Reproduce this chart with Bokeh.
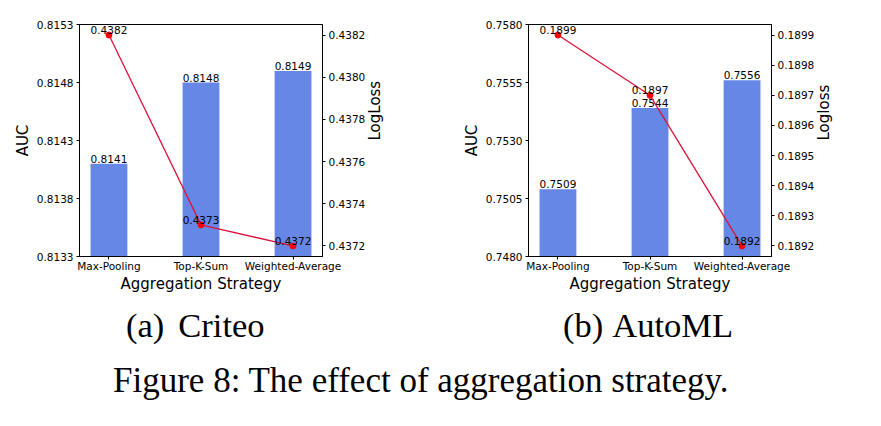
import math
from bokeh.plotting import figure
from bokeh.models import Range1d, LinearAxis, FixedTicker, Div, NumeralTickFormatter
from bokeh.layouts import row, column
from bokeh.embed import file_html
from bokeh.resources import INLINE
from bokeh.core.properties import value

strategies = ["Max-Pooling", "Top-K-Sum", "Weighted-Average"]

criteo_auc = [0.8141, 0.8148, 0.8149]
criteo_logloss = [0.4382, 0.4373, 0.4372]
criteo_auc_ticks = [0.8133, 0.8138, 0.8143, 0.8148, 0.8153]
criteo_logloss_ticks = [0.4372, 0.4374, 0.4376, 0.4378, 0.4380, 0.4382]

automl_auc = [0.7509, 0.7544, 0.7556]
automl_logloss = [0.1899, 0.1897, 0.1892]
automl_auc_ticks = [0.7480, 0.7505, 0.7530, 0.7555, 0.7580]
automl_logloss_ticks = [0.1892, 0.1893, 0.1894, 0.1895, 0.1896, 0.1897, 0.1898, 0.1899]

FONT = "DejaVu Sans"
BAR_COLOR = "#6787E7"


def style_axis(ax, label_size="15px"):
    ax.axis_line_color = "black"
    ax.major_tick_line_color = "black"
    ax.major_tick_out = 3
    ax.major_tick_in = 0
    ax.minor_tick_line_color = None
    ax.major_label_text_font = FONT
    ax.major_label_text_font_size = "10.5px"
    ax.major_label_text_color = "black"
    ax.axis_label_text_font = FONT
    ax.axis_label_text_font_size = label_size
    ax.axis_label_text_font_style = "normal"
    ax.axis_label_text_color = "black"


def make_panel(auc, loss, auc_ticks, loss_ticks, loss_label, width, left, right):
    xs = list(range(len(strategies)))
    pad = (max(loss) - min(loss)) * 0.05
    p = figure(width=width, height=300, output_backend="svg", toolbar_location=None,
               x_range=Range1d(-0.32, len(strategies) - 1 + 0.32),
               y_range=Range1d(auc_ticks[0], auc_ticks[-1]),
               min_border_left=left, min_border_right=right,
               min_border_top=24, min_border_bottom=44)
    p.extra_y_ranges = {"loss": Range1d(min(loss) - pad, max(loss) + pad)}
    p.grid.visible = False
    p.outline_line_color = "black"
    p.outline_line_alpha = 1.0
    p.background_fill_color = "white"
    p.border_fill_color = "white"

    p.vbar(x=xs, top=auc, bottom=auc_ticks[0], width=0.4,
           fill_color=BAR_COLOR, line_color=None)
    p.text(x=xs, y=auc, text=["%.4f" % v for v in auc],
           text_align="center", text_baseline="bottom", y_offset=-1,
           text_font=value(FONT), text_font_size="10.5px", text_color="black")

    p.line(x=xs, y=loss, y_range_name="loss", line_color="#DC143C", line_width=1.3)
    p.scatter(x=xs, y=loss, y_range_name="loss", size=6,
              fill_color="red", line_color="red")
    p.text(x=xs, y=loss, y_range_name="loss", text=["%.4f" % v for v in loss],
           text_align="center", text_baseline="bottom", y_offset=-1,
           text_font=value(FONT), text_font_size="10.5px", text_color="black")

    # x axis
    xa = p.xaxis[0]
    xa.ticker = FixedTicker(ticks=xs)
    xa.major_label_overrides = {i: s for i, s in enumerate(strategies)}
    xa.axis_label = "Aggregation Strategy"
    xa.major_label_standoff = 0
    xa.axis_label_standoff = 0
    style_axis(xa)

    # left axis
    ya = p.yaxis[0]
    ya.ticker = FixedTicker(ticks=auc_ticks)
    ya.formatter = NumeralTickFormatter(format="0.0000")
    ya.axis_label = "AUC"
    ya.major_label_standoff = 3
    ya.axis_label_standoff = 2
    style_axis(ya)

    # right axis
    ra = LinearAxis(y_range_name="loss", ticker=FixedTicker(ticks=loss_ticks),
                    formatter=NumeralTickFormatter(format="0.0000"),
                    axis_label=loss_label)
    ra.major_label_standoff = 3
    ra.axis_label_standoff = 7
    ra.axis_label_orientation = math.pi / 2
    style_axis(ra)
    p.add_layout(ra, "right")
    return p


p1 = make_panel(criteo_auc, criteo_logloss, criteo_auc_ticks, criteo_logloss_ticks,
                "LogLoss", 440, 79, 118)
p2 = make_panel(automl_auc, automl_logloss, automl_auc_ticks, automl_logloss_ticks,
                "Logloss", 441, 88, 110)

caption_html = """
<div style="position:relative;width:881px;height:126px;font-family:'Liberation Serif',serif;color:black;">
  <div style="position:absolute;left:121px;top:3px;font-size:34.5px;line-height:34.5px;white-space:nowrap;">(a)<span style="margin-left:14px;">Criteo</span></div>
  <div style="position:absolute;left:558px;top:3px;font-size:34.5px;line-height:34.5px;white-space:nowrap;">(b)<span style="margin-left:9px;">AutoML</span></div>
  <div style="position:absolute;left:108px;top:58px;font-size:35px;line-height:35px;white-space:nowrap;">Figure 8: The effect of aggregation strategy.</div>
</div>
"""
cap = Div(text=caption_html, width=881, height=126)

layout = column(row(p1, p2), cap)
open("out.html", "w").write(file_html(layout, INLINE))
